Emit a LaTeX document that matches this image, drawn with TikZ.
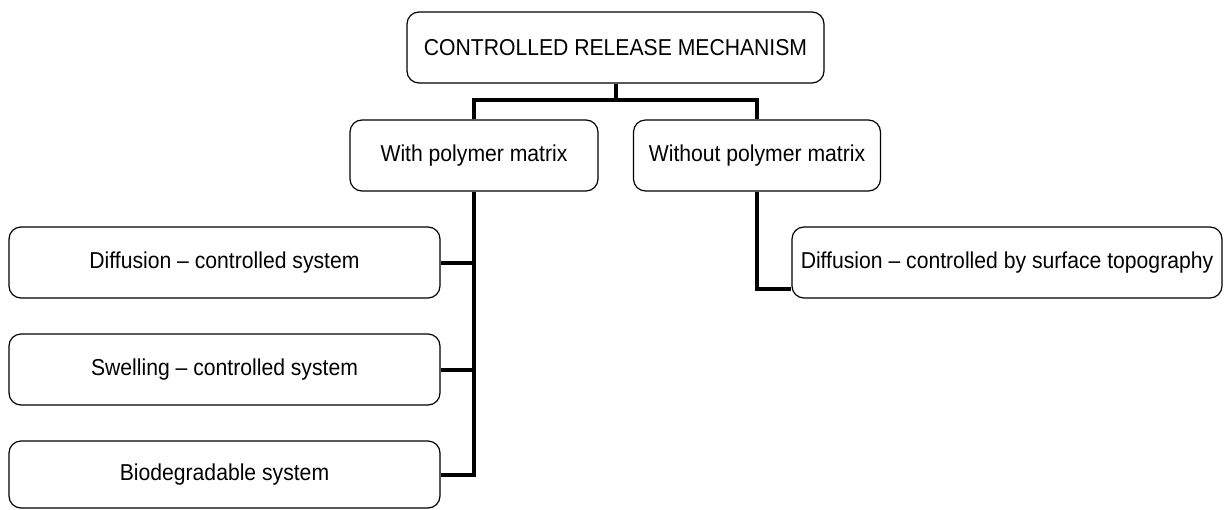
\documentclass[tikz,border=0pt]{standalone}
\usepackage{fontspec}
\setmainfont[FakeStretch=0.92]{Liberation Sans}
\begin{document}
\begin{tikzpicture}[x=1pt,y=-1pt,
  box/.style={draw=black,line width=1.2pt,rounded corners=12pt,fill=white,
    inner sep=0pt,font=\fontsize{23}{27}\selectfont,anchor=center},
  conn/.style={line width=4pt,line join=miter}]
\useasboundingbox (0,0) rectangle (1224,509);
\node[box,minimum width=417pt,minimum height=71pt] (top) at (615.5,47.5) {CONTROLLED RELEASE MECHANISM};
\node[box,minimum width=248pt,minimum height=71pt] (with) at (474,155.5) {With polymer matrix};
\node[box,minimum width=247pt,minimum height=71pt] (without) at (757,155.5) {Without polymer matrix};
\node[box,minimum width=431pt,minimum height=71pt] (diff) at (224.5,262.5) {Diffusion -- controlled system};
\node[box,minimum width=431pt,minimum height=71pt] (swell) at (224.5,369.5) {Swelling -- controlled system};
\node[box,minimum width=431pt,minimum height=67pt] (bio) at (224.5,474.5) {Biodegradable system};
\node[box,minimum width=430pt,minimum height=71pt] (surf) at (1007,262.5) {Diffusion -- controlled by surface topography};
\coordinate (j) at (615.5,100);
\coordinate (sw) at ([yshift=10pt]surf.south west);
\draw[conn] (top.south) -- (j);
\draw[conn] (with.north) |- (j) -| (without.north);
\draw[conn] (with.south) |- (bio.east);
\draw[conn] (diff.east) -- (diff.east -| with.south);
\draw[conn] (swell.east) -- (swell.east -| with.south);
\draw[conn] (without.south) |- (sw);
\end{tikzpicture}
\end{document}
